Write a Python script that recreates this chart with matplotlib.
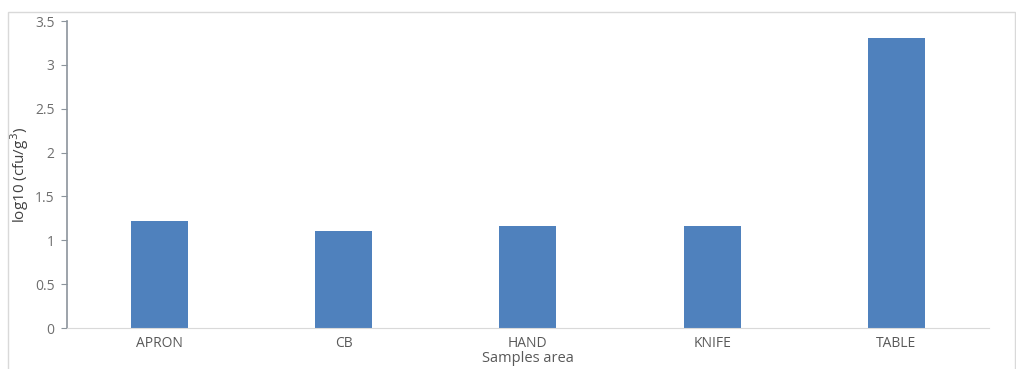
import matplotlib.pyplot as plt
from matplotlib.patches import Rectangle

# sampled surfaces and mean counts
areas = ['APRON', 'CB', 'HAND', 'KNIFE', 'TABLE']
log_counts = [1.22, 1.11, 1.16, 1.16, 3.31]

plt.rcParams['font.family'] = ['Open Sans', 'DejaVu Sans']

fig = plt.figure(figsize=(10.16, 3.69), dpi=100)
ax = fig.add_axes([0.066, 0.111, 0.907, 0.832])

ax.bar(areas, log_counts, width=0.31, color='#4f81bd')
ax.set_xlim(-0.5, len(areas) - 0.5)
ax.set_ylim(0, 3.5)
ax.set_yticks([0, 0.5, 1, 1.5, 2, 2.5, 3, 3.5])
ax.set_yticklabels(['0', '0.5', '1', '1.5', '2', '2.5', '3', '3.5'])

for s in ['top', 'right']:
    ax.spines[s].set_visible(False)
ax.spines['bottom'].set_color('#d9d9d9')
ax.spines['left'].set_color('#8c949c')
ax.spines['left'].set_linewidth(1.2)
ax.tick_params(axis='y', colors='#8c949c', labelcolor='#6e6e6e',
               labelsize=10, length=4, pad=5)
ax.tick_params(axis='x', length=0, labelcolor='#595959', labelsize=10, pad=6)

ax.set_ylabel('log10 (cfu/g$^3$)', fontsize=11, color='#404040')
ax.yaxis.set_label_coords(-0.039, 0.5)
ax.set_xlabel('Samples area', fontsize=10.5, color='#595959')
ax.xaxis.set_label_coords(0.5, -0.074)

# chart area frame
fig.patches.append(Rectangle((0.008, -0.05), 0.991, 1.018, transform=fig.transFigure,
                             fill=False, edgecolor='#d9d9d9', linewidth=1))

fig.savefig('out.png', dpi=100)
